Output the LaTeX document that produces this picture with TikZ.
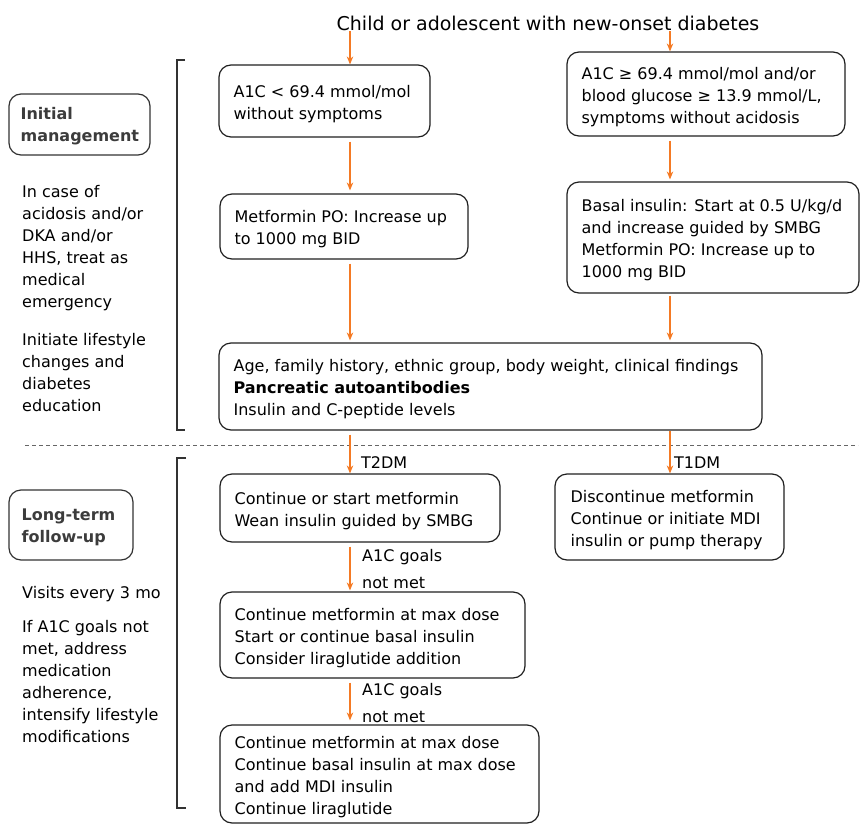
\documentclass[tikz,border=0pt]{standalone}
\usepackage{fontspec}
\setmainfont{DejaVu Sans}
\usetikzlibrary{arrows.meta,calc}
\definecolor{arrowor}{RGB}{244,122,36}
\definecolor{lblgray}{RGB}{60,60,60}
\definecolor{brkgray}{RGB}{50,50,50}
\begin{document}
\begin{tikzpicture}[x=1pt,y=-1pt,
  font=\fontsize{16}{22}\selectfont,
  box/.style={draw=black!88, line width=1.2pt, rounded corners=12pt, inner sep=0pt},
  txt/.style={anchor=west, align=left, inner xsep=15pt, inner ysep=0pt, yshift=-3pt},
  side/.style={draw=brkgray, line width=1.2pt, rounded corners=12pt, inner sep=0pt},
  sidetxt/.style={anchor=west, align=left, inner xsep=12pt, inner ysep=0pt, text=lblgray, font=\fontsize{16}{22}\selectfont\bfseries},
  note/.style={anchor=north west, align=left, inner sep=0pt},
  lab/.style={anchor=base west, inner sep=0pt},
  arr/.style={draw=arrowor, line width=1.1pt, -{Stealth[length=8pt,width=6.5pt]}},
  brk/.style={draw=brkgray, line width=1.3pt},
  divider/.style={draw=black!60, line width=0.8pt, dash pattern=on 4pt off 3pt}]
\useasboundingbox (0,0) rectangle (860,825);

\coordinate (L) at (350,0);
\coordinate (R) at (670,0);

% title
\node[anchor=base, inner sep=0pt, font=\fontsize{19}{22}\selectfont] (title) at (548,30) {Child or adolescent with new-onset diabetes};

% initial management boxes
\node[box, minimum width=211pt, minimum height=72pt, label={[txt,name=b1t]west:A1C < 69.4 mmol/mol\\without symptoms}] (b1) at (324.5,101) {};
\node[box, minimum width=278pt, minimum height=84pt, label={[txt,name=b2t]west:A1C ≥ 69.4 mmol/mol and/or\\blood glucose ≥ 13.9 mmol/L,\\symptoms without acidosis}] (b2) at (706,94) {};
\node[box, minimum width=248pt, minimum height=65pt, label={[txt,name=b3t]west:Metformin PO: Increase up\\to 1000 mg BID}] (b3) at (344,226.5) {};
\node[box, minimum width=292pt, minimum height=111pt, label={[txt,name=b4t]west:Basal insulin: Start at 0.5 U/kg/d\\and increase guided by SMBG\\Metformin PO: Increase up to\\1000 mg BID}] (b4) at (713,237.5) {};
\node[box, minimum width=543pt, minimum height=87pt, label={[txt,name=b5t]west:Age, family history, ethnic group, body weight, clinical findings\\\textbf{Pancreatic autoantibodies}\\Insulin and C-peptide levels}] (b5) at (490.5,386.5) {};

% long-term boxes
\node[box, minimum width=280pt, minimum height=68pt, label={[txt,name=b6t]west:Continue or start metformin\\Wean insulin guided by SMBG}] (b6) at (360,508) {};
\node[box, minimum width=229pt, minimum height=86pt, label={[txt,name=b7t,inner xsep=16pt]west:Discontinue metformin\\Continue or initiate MDI\\insulin or pump therapy}] (b7) at (669.5,517) {};
\node[box, minimum width=305pt, minimum height=86pt, label={[txt,name=b8t]west:Continue metformin at max dose\\Start or continue basal insulin\\Consider liraglutide addition}] (b8) at (372.5,635) {};
\node[box, minimum width=319pt, minimum height=98pt, label={[txt,name=b9t]west:Continue metformin at max dose\\Continue basal insulin at max dose\\and add MDI insulin\\Continue liraglutide}] (b9) at (379.5,774) {};

% side labels
\node[side, minimum width=141pt, minimum height=61pt, label={[sidetxt,name=s1t,yshift=-2pt]west:Initial\\management}] (s1) at (79.5,124.5) {};
\node[side, minimum width=124pt, minimum height=70pt, label={[sidetxt,name=s2t,inner xsep=13pt,yshift=-2pt]west:Long-term\\follow-up}] (s2) at (71,525) {};

% side notes
\node[note] (n1) at (22,185.5) {In case of\\acidosis and/or\\DKA and/or\\HHS, treat as\\medical\\emergency};
\node[note] (n2) at (22,333) {Initiate lifestyle\\changes and\\diabetes\\education};
\node[note] (n3) at (22,586) {Visits every 3 mo};
\node[note] (n4) at (22,620) {If A1C goals not\\met, address\\medication\\adherence,\\intensify lifestyle\\modifications};

% brackets
\coordinate (k1a) at (185,60);
\coordinate (k1b) at (185,430);
\coordinate (k2a) at (186,458);
\coordinate (k2b) at (186,808);
\draw[brk] (k1a) -- (177,60) -- (177,430) -- (k1b);
\draw[brk] (k2a) -- (177,458) -- (177,808) -- (k2b);

% divider
\coordinate (d1) at (25,445);
\coordinate (d2) at (858,445);
\draw[divider] (d1) -- (d2);

% arrows
\draw[arr] ($(title.south -| L)+(0,1)$) -- (b1.north -| L);
\draw[arr] ($(title.south -| R)+(0,1)$) -- (b2.north -| R);
\draw[arr, shorten <=4pt] (b1.south -| L) -- ($(b3.north -| L)+(0,-3)$);
\draw[arr, shorten <=4pt] (b2.south -| R) -- ($(b4.north -| R)+(0,-2)$);
\draw[arr, shorten <=4pt] (b3.south -| L) -- ($(b5.north -| L)+(0,-2)$);
\draw[arr, shorten <=2pt] (b4.south -| R) -- ($(b5.north -| R)+(0,-2)$);
\draw[arr, shorten <=4pt] (b5.south -| L) -- (b6.north -| L);
\draw[arr] (b5.south -| R) -- (b7.north -| R);
\draw[arr, shorten <=4pt] (b6.south -| L) -- ($(b8.north -| L)+(0,-1)$);
\draw[arr, shorten <=4pt] (b8.south -| L) -- ($(b9.north -| L)+(0,-4)$);

% arrow labels
\node[lab] (t2) at (361,468) {T2DM};
\node[lab] (t1) at (674,468) {T1DM};
\node[lab] (g1a) at (362,561) {A1C goals};
\node[lab] (g1b) at (362,588) {not met};
\node[lab] (g2a) at (362,695) {A1C goals};
\node[lab] (g2b) at (362,722) {not met};
\end{tikzpicture}
\end{document}
